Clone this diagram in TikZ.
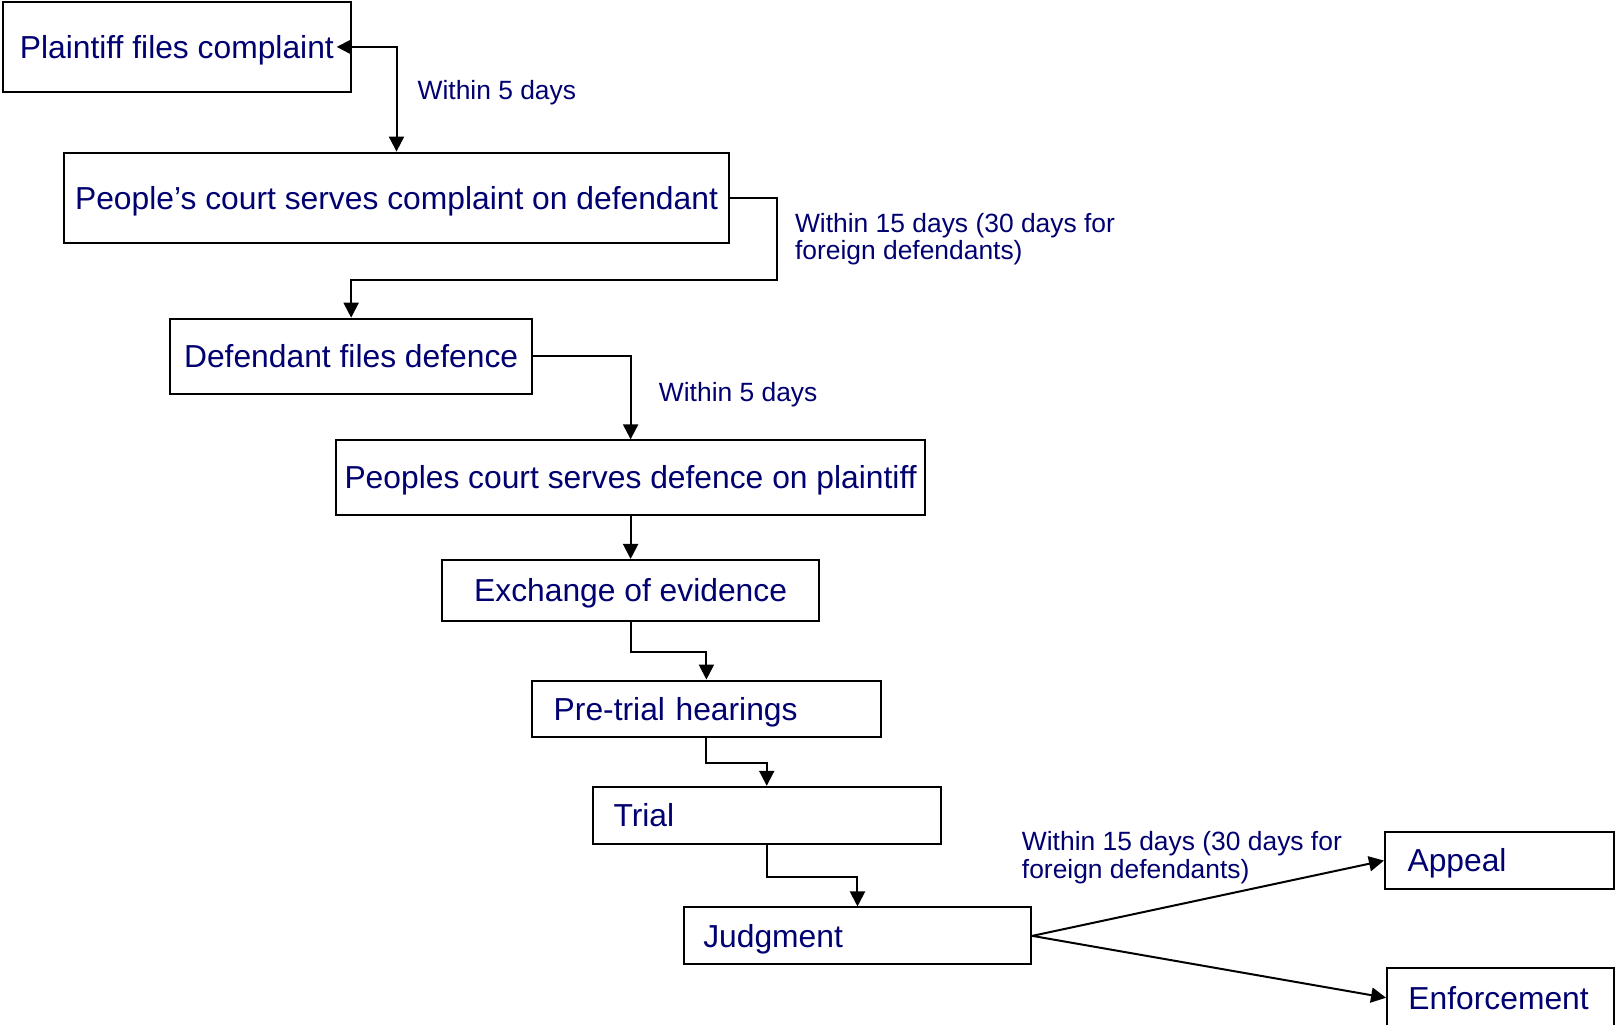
\documentclass[tikz,border=0pt]{standalone}
\usepackage{fontspec}
\setmainfont{Liberation Sans}
\usetikzlibrary{arrows.meta}

\definecolor{courtblue}{RGB}{0,0,112}

\tikzset{
	every picture/.style={line width=1pt},
	stage/.style={draw, line width=1pt, text=courtblue, inner ysep=0pt,
		text height=12.7pt, text depth=1.3pt,
		font=\fontsize{15.9}{18}\selectfont},
	leftstage/.style={stage, align=left},
	note/.style={anchor=west, text=courtblue, align=left, inner sep=0pt,
		font=\fontsize{13.2}{13.9}\selectfont},
	arr/.style={line width=1pt, -{Triangle[length=7.5pt,width=7.5pt]}}
}

\begin{document}
\begin{tikzpicture}[x=0.5156pt, y=-0.5156pt]
		%\draw [help lines] (0,0) grid (1568,993);
		\useasboundingbox (0,0) rectangle (1568,993);

		\node[stage, minimum width=173.8pt, minimum height=44.9pt] (plaintiff) at (171.5,45.5) {Plaintiff files complaint};
		\node[stage, minimum width=332.6pt, minimum height=45.4pt] (serve) at (384.5,192) {People’s court serves complaint on defendant};
		\node[stage, minimum width=181pt, minimum height=37.6pt] (defence) at (340.5,345.5) {Defendant files defence};
		\node[stage, minimum width=294.4pt, minimum height=37.1pt] (servedef) at (611.5,463) {Peoples court serves defence on plaintiff};
		\node[stage, minimum width=188.7pt, minimum height=30.4pt] (evidence) at (611.5,572.5) {Exchange of evidence};
		\node[leftstage, text width=152.7pt, inner xsep=10.8pt, minimum height=28.4pt] (pretrial) at (685,687.5) {Pre-trial hearings};
		\node[leftstage, text width=153.2pt, inner xsep=10.3pt, minimum height=28.4pt] (trial) at (743.5,790.5) {Trial};
		\node[leftstage, text width=154.2pt, inner xsep=9.8pt, minimum height=28.4pt] (judgment) at (831.5,907.5) {Judgment};
		\node[leftstage, text width=91.9pt, inner xsep=11.3pt, minimum height=28.4pt] (appeal) at (1454,834.5) {Appeal};
		\node[leftstage, text width=92pt, inner xsep=10.7pt, minimum height=29.4pt] (enforce) at (1455,967.5) {Enforcement};

		\node[note] (days1) at (404,90) {Within 5 days};
		\node[note] (days2) at (770,232) {Within 15 days (30 days for\\foreign defendants)};
		\node[note] (days3) at (638,383) {Within 5 days};
		\node[note] (days4) at (990,832) {Within 15 days (30 days for\\foreign defendants)};

		\coordinate (bend) at (753,272);
		\draw[line width=1pt, {Triangle[length=7.5pt,width=7.5pt]}-{Triangle[length=7.5pt,width=7.5pt]}, shorten <=-7.5pt] (plaintiff.east) -| (serve.north);
		\draw[arr] (serve.east) -| (bend) -| (defence.north);
		\draw[arr] (defence.east) -| (servedef.north);
		\draw[arr] (servedef.south) -- (evidence.north);
		\draw[arr] (evidence.south) -- ++(0,29) -| (pretrial.north);
		\draw[arr] (pretrial.south) -- ++(0,24) -| (trial.north);
		\draw[arr] (trial.south) -- ++(0,31) -| (judgment.north);
		\draw[arr] (judgment.east) -- (appeal.west);
		\draw[arr] (judgment.east) -- (enforce.west);
	\end{tikzpicture}
\end{document}
